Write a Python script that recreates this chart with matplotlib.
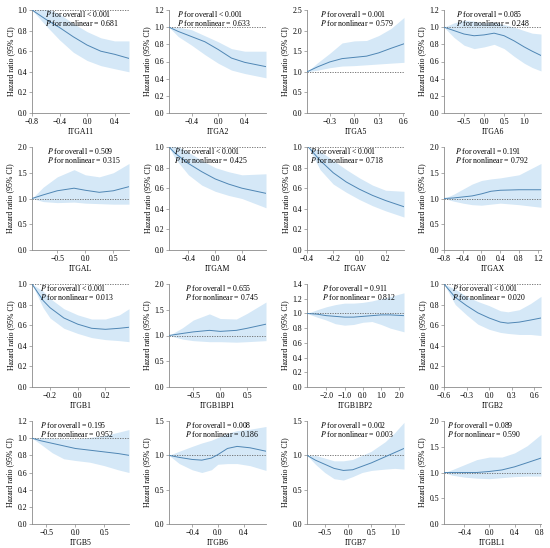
import numpy as np
import matplotlib
matplotlib.use("Agg")
import matplotlib.pyplot as plt

plt.rcParams['font.family'] = ['Liberation Serif', 'DejaVu Serif']
plt.rcParams['mathtext.fontset'] = 'stix'

# ---------------- data ----------------
genes = ['ITGA11', 'ITGA2', 'ITGA5', 'ITGA6',
         'ITGAL', 'ITGAM', 'ITGAV', 'ITGAX',
         'ITGB1', 'ITGB1BP1', 'ITGB1BP2', 'ITGB2',
         'ITGB5', 'ITGB6', 'ITGB7', 'ITGBL1']

p_overall = ['< 0.001', '< 0.001', '= 0.001', '= 0.085',
             '= 0.509', '< 0.001', '< 0.001', '= 0.191',
             '< 0.001', '= 0.655', '= 0.911', '< 0.001',
             '= 0.195', '= 0.008', '= 0.002', '= 0.089']
p_nonlinear = ['= 0.681', '= 0.633', '= 0.579', '= 0.248',
               '= 0.315', '= 0.425', '= 0.718', '= 0.792',
               '= 0.013', '= 0.745', '= 0.812', '= 0.020',
               '= 0.952', '= 0.186', '= 0.003', '= 0.590']

x_limits = [(-0.8, 0.61), (-0.74, 0.72), (-0.58, 0.61), (-1.0, 1.42),
            (-0.95, 0.78), (-0.69, 0.76), (-0.4, 0.34), (-0.8, 1.27),
            (-0.33, 0.37), (-0.95, 0.85), (-3.05, 2.25), (-0.6, 0.69),
            (-0.75, 0.93), (-0.76, 0.75), (-0.88, 1.2), (-0.72, 0.82)]

x_ticks = [[-0.8, -0.4, 0.0, 0.4], [-0.4, 0.0, 0.4], [-0.3, 0.0, 0.3, 0.6], [-0.5, 0.0, 0.5, 1.0],
           [-0.5, 0.0, 0.5], [-0.4, 0.0, 0.4], [-0.4, -0.2, 0.0, 0.2], [-0.8, -0.4, 0.0, 0.4, 0.8, 1.2],
           [-0.2, 0.0, 0.2], [-0.5, 0.0, 0.5], [-2.0, -1.0, 0.0, 1.0, 2.0], [-0.6, -0.3, 0.0, 0.3, 0.6],
           [-0.5, 0.0, 0.5], [-0.4, 0.0, 0.4], [-0.5, 0.0, 0.5, 1.0], [-0.4, 0.0, 0.4, 0.8]]

y_max = [1.0, 1.2, 2.5, 1.2,
         2.0, 1.0, 1.0, 2.0,
         1.0, 2.0, 1.4, 1.0,
         1.2, 1.5, 1.5, 2.0]
y_step = [0.2, 0.2, 0.5, 0.2,
          0.5, 0.2, 0.2, 0.5,
          0.2, 0.5, 0.2, 0.2,
          0.2, 0.5, 0.5, 0.5]

itga11_x = [-0.8, -0.6, -0.4, -0.2, 0.0, 0.2, 0.4, 0.61]
itga11_hr = [1.0, 0.91, 0.83, 0.74, 0.66, 0.60, 0.57, 0.53]
itga11_lo = [1.0, 0.85, 0.71, 0.59, 0.51, 0.46, 0.43, 0.40]
itga11_hi = [1.0, 1.02, 0.96, 0.87, 0.79, 0.73, 0.70, 0.70]

itga2_x = [-0.74, -0.6, -0.4, -0.2, 0.0, 0.2, 0.4, 0.72]
itga2_hr = [1.0, 0.95, 0.89, 0.83, 0.74, 0.64, 0.59, 0.54]
itga2_lo = [1.0, 0.89, 0.79, 0.68, 0.58, 0.50, 0.46, 0.41]
itga2_hi = [1.0, 1.0, 0.97, 0.90, 0.83, 0.75, 0.72, 0.72]

itga5_x = [-0.58, -0.45, -0.3, -0.15, 0.0, 0.15, 0.3, 0.45, 0.61]
itga5_hr = [1.0, 1.12, 1.24, 1.32, 1.35, 1.38, 1.46, 1.57, 1.68]
itga5_lo = [1.0, 1.04, 1.10, 1.14, 1.15, 1.17, 1.19, 1.21, 1.23]
itga5_hi = [1.0, 1.22, 1.45, 1.70, 1.75, 1.76, 1.88, 2.05, 2.32]

itga6_x = [-1.0, -0.75, -0.5, -0.25, 0.0, 0.25, 0.5, 0.75, 1.0, 1.2, 1.42]
itga6_hr = [1.0, 0.96, 0.92, 0.90, 0.91, 0.93, 0.90, 0.84, 0.77, 0.72, 0.67]
itga6_lo = [1.0, 0.88, 0.79, 0.75, 0.77, 0.80, 0.75, 0.66, 0.58, 0.53, 0.49]
itga6_hi = [1.0, 1.05, 1.08, 1.07, 1.05, 1.06, 1.03, 1.0, 0.96, 0.93, 0.92]

itgal_x = [-0.95, -0.75, -0.5, -0.2, 0.0, 0.25, 0.5, 0.78]
itgal_hr = [1.0, 1.07, 1.15, 1.20, 1.16, 1.12, 1.15, 1.23]
itgal_lo = [1.0, 0.94, 0.92, 0.93, 0.91, 0.90, 0.89, 0.89]
itgal_hi = [1.0, 1.22, 1.42, 1.56, 1.46, 1.42, 1.50, 1.68]

itgam_x = [-0.69, -0.6, -0.4, -0.2, 0.0, 0.2, 0.4, 0.76]
itgam_hr = [1.0, 0.94, 0.84, 0.76, 0.69, 0.64, 0.60, 0.55]
itgam_lo = [1.0, 0.89, 0.73, 0.63, 0.57, 0.53, 0.50, 0.41]
itgam_hi = [1.0, 1.02, 0.95, 0.87, 0.80, 0.76, 0.73, 0.74]

itgav_x = [-0.39, -0.3, -0.2, -0.1, 0.0, 0.1, 0.2, 0.34]
itgav_hr = [1.0, 0.87, 0.75, 0.66, 0.59, 0.53, 0.48, 0.42]
itgav_lo = [1.0, 0.78, 0.64, 0.56, 0.49, 0.43, 0.38, 0.32]
itgav_hi = [1.0, 0.96, 0.87, 0.78, 0.70, 0.63, 0.58, 0.57]

itgax_x = [-0.8, -0.6, -0.4, -0.2, 0.0, 0.2, 0.4, 0.8, 1.27]
itgax_hr = [1.0, 1.01, 1.03, 1.05, 1.09, 1.14, 1.16, 1.17, 1.17]
itgax_lo = [1.0, 0.95, 0.91, 0.88, 0.87, 0.89, 0.91, 0.88, 0.83]
itgax_hi = [1.0, 1.08, 1.18, 1.28, 1.35, 1.38, 1.40, 1.46, 1.68]

itgb1_x = [-0.33, -0.25, -0.2, -0.1, 0.0, 0.1, 0.2, 0.3, 0.37]
itgb1_hr = [1.0, 0.84, 0.77, 0.67, 0.61, 0.57, 0.56, 0.57, 0.58]
itgb1_lo = [1.0, 0.77, 0.67, 0.57, 0.52, 0.48, 0.46, 0.45, 0.44]
itgb1_hi = [1.0, 0.93, 0.86, 0.76, 0.70, 0.66, 0.66, 0.70, 0.76]

itgb1bp1_x = [-0.95, -0.7, -0.5, -0.2, 0.0, 0.3, 0.5, 0.85]
itgb1bp1_hr = [1.0, 1.04, 1.07, 1.10, 1.08, 1.10, 1.14, 1.22]
itgb1bp1_lo = [1.0, 0.93, 0.90, 0.88, 0.88, 0.87, 0.88, 0.90]
itgb1bp1_hi = [1.0, 1.15, 1.30, 1.42, 1.33, 1.32, 1.43, 1.65]

itgb1bp2_x = [-3.05, -2.5, -2.0, -1.5, -1.0, -0.5, 0.0, 0.5, 1.0, 1.5, 2.25]
itgb1bp2_hr = [1.0, 0.99, 0.97, 0.96, 0.95, 0.95, 0.96, 0.97, 0.98, 0.98, 0.97]
itgb1bp2_lo = [1.0, 0.95, 0.91, 0.86, 0.84, 0.85, 0.88, 0.89, 0.85, 0.80, 0.75]
itgb1bp2_hi = [1.0, 1.05, 1.09, 1.12, 1.14, 1.14, 1.15, 1.17, 1.20, 1.23, 1.28]

itgb2_x = [-0.6, -0.45, -0.3, -0.15, 0.0, 0.15, 0.25, 0.4, 0.55, 0.69]
itgb2_hr = [1.0, 0.87, 0.79, 0.72, 0.67, 0.63, 0.62, 0.63, 0.65, 0.67]
itgb2_lo = [1.0, 0.80, 0.70, 0.61, 0.56, 0.53, 0.52, 0.51, 0.51, 0.50]
itgb2_hi = [1.0, 0.95, 0.88, 0.83, 0.79, 0.74, 0.73, 0.75, 0.81, 0.88]

itgb5_x = [-0.75, -0.6, -0.4, -0.2, 0.0, 0.25, 0.5, 0.75, 0.93]
itgb5_hr = [1.0, 0.97, 0.94, 0.91, 0.88, 0.86, 0.84, 0.82, 0.80]
itgb5_lo = [1.0, 0.93, 0.83, 0.76, 0.74, 0.72, 0.68, 0.63, 0.60]
itgb5_hi = [1.0, 1.01, 1.0, 0.99, 0.99, 1.01, 1.03, 1.07, 1.10]

itgb6_x = [-0.76, -0.6, -0.4, -0.25, -0.1, 0.0, 0.15, 0.3, 0.5, 0.75]
itgb6_hr = [1.0, 0.97, 0.94, 0.93, 0.96, 1.01, 1.10, 1.13, 1.11, 1.06]
itgb6_lo = [1.0, 0.88, 0.79, 0.75, 0.79, 0.87, 0.88, 0.88, 0.85, 0.78]
itgb6_hi = [1.0, 1.06, 1.13, 1.18, 1.22, 1.26, 1.32, 1.36, 1.38, 1.42]

itgb7_x = [-0.88, -0.7, -0.5, -0.3, -0.1, 0.1, 0.3, 0.5, 0.8, 1.0, 1.2]
itgb7_hr = [1.0, 0.93, 0.87, 0.81, 0.78, 0.79, 0.84, 0.89, 0.98, 1.04, 1.10]
itgb7_lo = [1.0, 0.87, 0.75, 0.66, 0.64, 0.69, 0.75, 0.78, 0.80, 0.81, 0.80]
itgb7_hi = [1.0, 1.0, 0.96, 0.92, 0.92, 0.94, 1.0, 1.06, 1.20, 1.33, 1.48]

itgbl1_x = [-0.72, -0.6, -0.4, -0.2, 0.0, 0.2, 0.4, 0.6, 0.82]
itgbl1_hr = [1.0, 1.0, 1.0, 1.0, 1.02, 1.05, 1.11, 1.19, 1.28]
itgbl1_lo = [1.0, 0.95, 0.91, 0.89, 0.88, 0.90, 0.92, 0.93, 0.93]
itgbl1_hi = [1.0, 1.05, 1.15, 1.25, 1.30, 1.30, 1.38, 1.52, 1.74]

curves = [
    (itga11_x, itga11_hr, itga11_lo, itga11_hi),
    (itga2_x, itga2_hr, itga2_lo, itga2_hi),
    (itga5_x, itga5_hr, itga5_lo, itga5_hi),
    (itga6_x, itga6_hr, itga6_lo, itga6_hi),
    (itgal_x, itgal_hr, itgal_lo, itgal_hi),
    (itgam_x, itgam_hr, itgam_lo, itgam_hi),
    (itgav_x, itgav_hr, itgav_lo, itgav_hi),
    (itgax_x, itgax_hr, itgax_lo, itgax_hi),
    (itgb1_x, itgb1_hr, itgb1_lo, itgb1_hi),
    (itgb1bp1_x, itgb1bp1_hr, itgb1bp1_lo, itgb1bp1_hi),
    (itgb1bp2_x, itgb1bp2_hr, itgb1bp2_lo, itgb1bp2_hi),
    (itgb2_x, itgb2_hr, itgb2_lo, itgb2_hi),
    (itgb5_x, itgb5_hr, itgb5_lo, itgb5_hi),
    (itgb6_x, itgb6_hr, itgb6_lo, itgb6_hi),
    (itgb7_x, itgb7_hr, itgb7_lo, itgb7_hi),
    (itgbl1_x, itgbl1_hr, itgbl1_lo, itgbl1_hi),
]

# left position of the P-value text (axes fraction)
text_x = [0.13, 0.08, 0.13, 0.12,
          0.15, 0.05, 0.03, 0.11,
          0.08, 0.16, 0.15, 0.08,
          0.08, 0.16, 0.13, 0.03]

# ---------------- layout ----------------
W, H = 550, 548
col_left = [32, 169, 307, 444]
row_top = [10, 147, 284, 421]
ax_w, ax_h = 97, 103

LINE_C = '#4f86b4'
BAND_C = '#d5e8f7'
SPINE_C = '#8a8a8a'
FS = 5.6


def fmt(v):
    s = f"{v:.1f}"
    return s.replace('-', '\u2212')


fig = plt.figure(figsize=(W / 100, H / 100), dpi=100)

for i, gene in enumerate(genes):
    r, c = divmod(i, 4)
    ax = fig.add_axes([col_left[c] / W, 1 - (row_top[r] + ax_h) / H, ax_w / W, ax_h / H])
    x, hr, lo, hi = curves[i]
    ax.fill_between(x, lo, hi, color=BAND_C, linewidth=0, zorder=1)
    ax.plot(x, hr, color=LINE_C, linewidth=0.7, zorder=3)
    ax.axhline(1.0, color='#666666', linestyle=(0, (1.5, 1.5)), linewidth=0.6, zorder=2)

    ax.set_xlim(*x_limits[i])
    ax.set_ylim(0, y_max[i])
    yt = np.round(np.arange(0, y_max[i] + 1e-9, y_step[i]), 2)
    ax.set_yticks(yt)
    ax.set_yticklabels([fmt(v) for v in yt])
    ax.set_xticks(x_ticks[i])
    ax.set_xticklabels([fmt(v) for v in x_ticks[i]])

    for side in ['top', 'right']:
        ax.spines[side].set_visible(False)
    for side in ['left', 'bottom']:
        ax.spines[side].set_color(SPINE_C)
        ax.spines[side].set_linewidth(0.6)
    ax.tick_params(labelsize=FS, length=2, width=0.5, color=SPINE_C, pad=1.5)

    ax.set_xlabel(gene, fontsize=FS, labelpad=1.5)
    ax.set_ylabel('Hazard ratio (95% CI)', fontsize=FS, labelpad=2)

    ax.text(text_x[i], 0.965, f"$P$ for overall {p_overall[i]}", transform=ax.transAxes,
            fontsize=FS, va='center', ha='left', zorder=4)
    ax.text(text_x[i], 0.874, f"$P$ for nonlinear {p_nonlinear[i]}", transform=ax.transAxes,
            fontsize=FS, va='center', ha='left', zorder=4)

fig.savefig('out.png', dpi=100)
